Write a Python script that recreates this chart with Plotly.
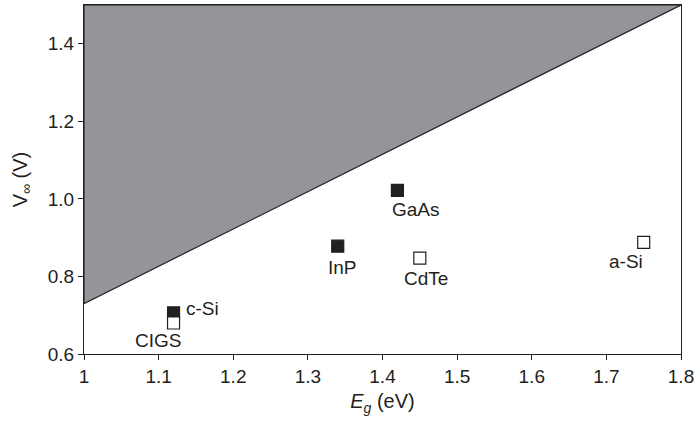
import plotly.graph_objects as go

materials = ["c-Si", "CIGS", "InP", "GaAs", "CdTe", "a-Si"]
eg = [1.12, 1.12, 1.34, 1.42, 1.45, 1.75]
voc = [0.706, 0.68, 0.878, 1.022, 0.847, 0.888]
filled = [True, False, True, True, False, False]
label_shift = {"c-Si": (10, 4, "left"), "CIGS": (-16, -18, "center"), "InP": (5, -21, "center"),
               "GaAs": (19, -19, "center"), "CdTe": (6, -20, "center"), "a-Si": (-18, -19, "center")}
limit_x = [1.0, 1.8]
limit_y = [0.73, 1.5]

fig = go.Figure()
fig.add_trace(go.Scatter(x=[limit_x[0], limit_x[1], limit_x[0], limit_x[0]],
                         y=[limit_y[0], limit_y[1], 1.5, limit_y[0]],
                         fill="toself", fillcolor="#939598", mode="lines",
                         line=dict(color="#231f20", width=1.2), hoverinfo="skip"))
fig.add_trace(go.Scatter(x=eg, y=voc, mode="markers",
                         marker=dict(symbol="square", size=12,
                                     color=["#231f20" if f else "white" for f in filled],
                                     line=dict(color="#231f20", width=1.2))))
for m, x, y in zip(materials, eg, voc):
    dx, dy, xa = label_shift[m]
    fig.add_annotation(x=x, y=y, text=m, showarrow=False, xshift=dx, yshift=dy, xanchor=xa,
                       font=dict(size=19, color="#231f20"))

font = "Liberation Sans, Arial, sans-serif"
fig.update_layout(width=698, height=424, margin=dict(l=84, r=15, t=4, b=70),
                  plot_bgcolor="white", paper_bgcolor="white", showlegend=False,
                  font=dict(family=font, size=19, color="#231f20"))
fig.update_xaxes(range=[1, 1.8], tickvals=[1, 1.1, 1.2, 1.3, 1.4, 1.5, 1.6, 1.7, 1.8],
                 ticktext=["1", "1.1", "1.2", "1.3", "1.4", "1.5", "1.6", "1.7", "1.8"],
                 ticks="outside", ticklen=5, tickcolor="#231f20", showgrid=False, zeroline=False,
                 showline=True, linecolor="#231f20", linewidth=1.2, mirror=True,
                 title=dict(text="<i>E<sub>g</sub></i> (eV)", standoff=8, font=dict(size=20)))
fig.update_yaxes(range=[0.6, 1.5], tickvals=[0.6, 0.8, 1.0, 1.2, 1.4],
                 ticktext=["0.6", "0.8", "1.0", "1.2", "1.4"],
                 ticks="outside", ticklen=5, tickcolor="#231f20", showgrid=False, zeroline=False,
                 showline=True, linecolor="#231f20", linewidth=1.2, mirror=True,
                 title=dict(text="V<sub>∞</sub> (V)", standoff=14, font=dict(size=20)))
fig.write_html("out.html")
